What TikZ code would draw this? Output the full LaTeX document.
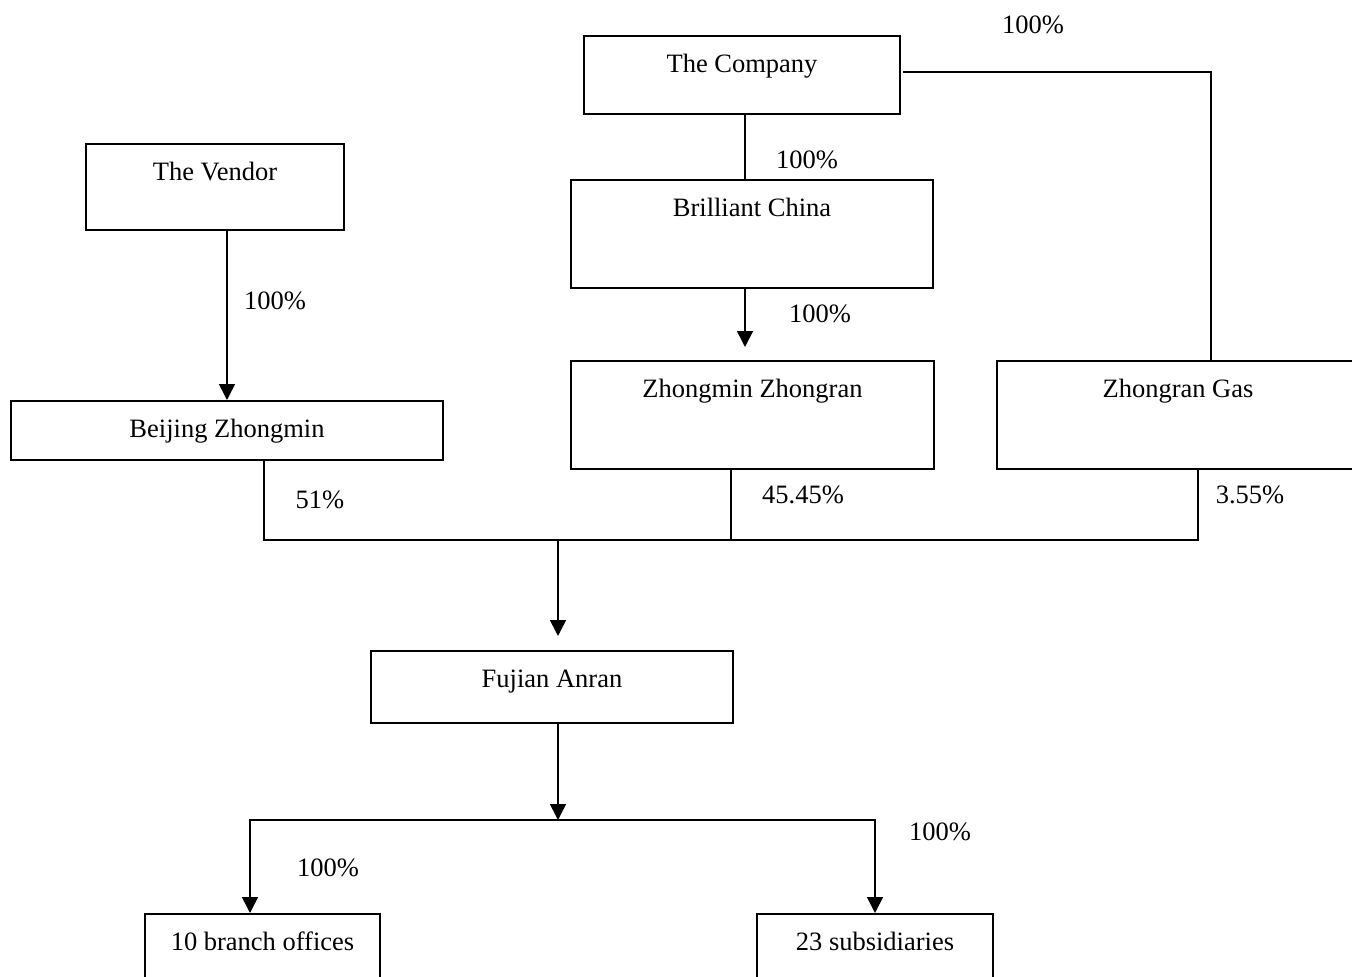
\documentclass[tikz,border=0pt]{standalone}
\usepackage{fontspec}
\setmainfont{Liberation Serif}
\usetikzlibrary{arrows.meta}
\begin{document}
\begin{tikzpicture}[x=1pt,y=-1pt,
        every node/.style={font=\fontsize{26.5}{30}\selectfont},
        unit/.style={draw, line width=1.6pt, inner sep=0pt, anchor=north, text height=37pt},
        link/.style={line width=1.6pt},
        tip/.style={-{Triangle[length=16pt,width=16pt]}},
        pct/.style={inner sep=0pt}]
        \useasboundingbox (0,0) rectangle (1352,977);
        \node [unit, minimum width=316pt, text depth=41pt] (comp) at (742,35) {The Company};
        \node [unit, minimum width=258pt, text depth=49pt] (vendor) at (215,143) {The Vendor};
        \node [unit, minimum width=362pt, text depth=71pt] (bc) at (752,179) {Brilliant China};
        \node [unit, minimum width=363pt, text depth=71pt] (zz) at (752.5,360) {Zhongmin Zhongran};
        \node [unit, minimum width=362pt, text depth=71pt] (gas) at (1178,360) {Zhongran Gas};
        \node [unit, minimum width=432pt, text depth=22pt] (bj) at (227,400) {Beijing Zhongmin};
        \node [unit, minimum width=362pt, text depth=35pt] (fa) at (552,650) {Fujian Anran};
        \node [unit, minimum width=235pt, text depth=50pt] (br) at (262.5,913) {10 branch offices};
        \node [unit, minimum width=236pt, text depth=50pt] (sub) at (875,913) {23 subsidiaries};
        \coordinate (bar) at (558,540);
        \coordinate (fork) at (558,820);
        \draw [link] ([xshift=3pt]comp.south) -- ([xshift=3pt]comp.south |- bc.north);
        \draw [link, tip, shorten >=13pt] ([xshift=-7pt]bc.south) -- ([xshift=-7pt]bc.south |- zz.north);
        \draw [link] ([xshift=2pt,yshift=3pt]comp.east) -| ([xshift=33pt]gas.north);
        \draw [link, tip] (vendor.south -| bj.north) -- (bj.north);
        \draw [link] ([xshift=37pt]bj.south) |- (bar) -| ([xshift=20pt]gas.south);
        \draw [link] ([xshift=-21.5pt]zz.south) -- ([xshift=-21.5pt]zz.south |- bar);
        \draw [link, tip, shorten >=14pt] (bar) -- (bar |- fa.north);
        \draw [link, tip] ([xshift=6pt]fa.south) -- (fork);
        \draw [link, tip] (fork) -| ([xshift=-12.5pt]br.north);
        \draw [link, tip] (fork) -| (sub.north);
        \node [pct] (pGas) at (1033,25) {100\%};
        \node [pct] (pBc) at (807,160) {100\%};
        \node [pct] (pZz) at (820,314) {100\%};
        \node [pct] (pBj) at (275,301) {100\%};
        \node [pct] (pBjFa) at (320,500) {51\%};
        \node [pct] (pZzFa) at (803,495) {45.45\%};
        \node [pct] (pGasFa) at (1250,495) {3.55\%};
        \node [pct] (pBr) at (328,868) {100\%};
        \node [pct] (pSub) at (940,832) {100\%};
\end{tikzpicture}
\end{document}
